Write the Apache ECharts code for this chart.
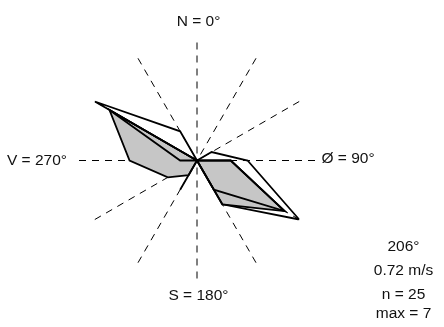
<!DOCTYPE html>
<html>
<head>
<meta charset="utf-8">
<script src="https://cdn.jsdelivr.net/npm/echarts@6/dist/echarts.min.js"></script>
<style>
  html, body { margin: 0; padding: 0; background: #fff; }
  #chart { width: 444px; height: 327px; }
</style>
</head>
<body>
<div id="chart"></div>
<script>
// Sector directions (degrees, clockwise from north)
var directions = [0, 30, 60, 90, 120, 150, 180, 210, 240, 270, 300, 330];

// Counts per sector
var totalCounts = [0, 0, 1, 3, 7, 3, 0, 2, 0, 0, 7, 2];
var shadedCounts = [0, 0, 0, 2, 6, 3, 0, 1, 2, 4, 6, 0];
var innerCounts = [0, 0, 0, 2, 6, 2, 0, 0, 0, 1, 6, 0];

// Compass labels
var compassLabels = ['N = 0°', 'Ø = 90°', 'S = 180°', 'V = 270°'];

// Summary lines
var summaryLines = ['206°', '0.72 m/s', 'n = 25', 'max = 7'];
var maxCount = 7;

function ring(counts) {
  var pts = directions.map(function (d, i) { return [counts[i], d]; });
  pts.push([counts[0], 360]);
  return pts;
}

var FONT = '15.5px "Liberation Sans", Arial, sans-serif';
var lineBase = { color: '#000', width: 1.8, join: 'miter', miterLimit: 10 };

var chart = echarts.init(document.getElementById('chart'), null, { renderer: 'canvas' });

var graphics = [
  { type: 'text', x: 198.5, y: 22, style: { text: compassLabels[0], font: FONT, fill: '#111', textAlign: 'center', textVerticalAlign: 'middle' } },
  { type: 'text', x: 321.5, y: 159, style: { text: compassLabels[1], font: FONT, fill: '#111', textAlign: 'left', textVerticalAlign: 'middle' } },
  { type: 'text', x: 198.5, y: 295.5, style: { text: compassLabels[2], font: FONT, fill: '#111', textAlign: 'center', textVerticalAlign: 'middle' } },
  { type: 'text', x: 67, y: 160.5, style: { text: compassLabels[3], font: FONT, fill: '#111', textAlign: 'right', textVerticalAlign: 'middle' } }
];
var summaryY = [247, 271, 294.5, 313.5];
summaryLines.forEach(function (t, i) {
  graphics.push({ type: 'text', x: 403.5, y: summaryY[i], style: { text: t, font: FONT, fill: '#111', textAlign: 'center', textVerticalAlign: 'middle' } });
});

chart.setOption({
  animation: false,
  backgroundColor: '#fff',
  polar: { center: [197, 160.5], radius: 118 },
  angleAxis: {
    type: 'value', min: 0, max: 360, interval: 30,
    startAngle: 90, clockwise: true,
    axisLine: { show: false }, axisTick: { show: false }, axisLabel: { show: false },
    splitLine: { show: true, lineStyle: { color: '#000', width: 1, type: [7, 6] } }
  },
  radiusAxis: {
    type: 'value', min: 0, max: maxCount,
    axisLine: { show: false }, axisTick: { show: false }, axisLabel: { show: false },
    splitLine: { show: false }
  },
  series: [
    {
      type: 'line', coordinateSystem: 'polar', data: ring(shadedCounts),
      symbol: 'none', lineStyle: lineBase,
      areaStyle: { color: '#c6c6c6', opacity: 1 }, z: 2
    },
    {
      type: 'line', coordinateSystem: 'polar', data: ring(innerCounts),
      symbol: 'none', lineStyle: lineBase, z: 3
    },
    {
      type: 'line', coordinateSystem: 'polar', data: ring(totalCounts),
      symbol: 'none', lineStyle: lineBase, z: 4
    }
  ],
  graphic: graphics
});
</script>
</body>
</html>
